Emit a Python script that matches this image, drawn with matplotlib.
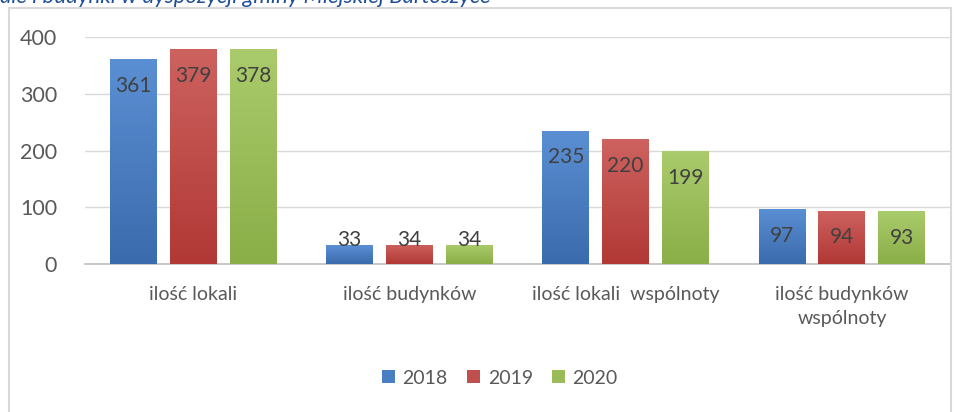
import matplotlib.pyplot as plt
import numpy as np
from matplotlib.patches import Rectangle
from matplotlib.colors import LinearSegmentedColormap

categories = ['ilość lokali', 'ilość budynków', 'ilość lokali  wspólnoty', 'ilość budynków\nwspólnoty']
years = ['2018', '2019', '2020']
values_2018 = [361, 33, 235, 97]
values_2019 = [379, 34, 220, 94]
values_2020 = [378, 34, 199, 93]
colors = ['#4a7ec2', '#c0504d', '#9bbb59']
# top / bottom shades for the bar gradients
shades = [('#5b8fd3', '#3a6bad'), ('#cd625f', '#b13835'), ('#aacb6b', '#8aae48')]

plt.rcParams['font.family'] = ['Lato', 'DejaVu Sans']

fig = plt.figure(figsize=(9.69, 4.12), dpi=100)
ax = fig.add_axes([85 / 969, 1 - 264 / 412, (950 - 85) / 969, (264 - 37) / 412])

# outer frame of the chart
fig.patches.append(Rectangle((9 / 969, -0.05), (951 - 9) / 969, 1.05 - 8 / 412,
                             transform=fig.transFigure, fill=False,
                             edgecolor='#d9d9d9', linewidth=1.5))

# clipped caption above the chart
fig.text(0.0, 1 - 3 / 412, 'ale i budynki w dyspozycji gminy Miejskiej Bartoszyce',
         color='#1f4e99', style='italic', fontsize=16, ha='left', va='baseline')

x = np.arange(len(categories))
width = 0.217
step = 0.277
series = [values_2018, values_2019, values_2020]
grad = np.linspace(1, 0, 100).reshape(-1, 1)
for i, (vals, col, yr) in enumerate(zip(series, colors, years)):
    pos = x + (i - 1) * step
    bars = ax.bar(pos, vals, width=width, color=col, label=yr, zorder=3)
    cmap = LinearSegmentedColormap.from_list('g%d' % i, [shades[i][1], shades[i][0]])
    for b in bars:
        bx, by = b.get_x(), b.get_y()
        im = ax.imshow(grad, cmap=cmap, extent=(bx, bx + b.get_width(), by, by + b.get_height()),
                       aspect='auto', zorder=3.1, vmin=0, vmax=1)
        im.set_clip_path(b)
    for p, v in zip(pos, vals):
        ax.text(p, max(v - 47, 42), str(v), ha='center', va='center',
                fontsize=15, color='#404040', zorder=4)

ax.set_xlim(-0.5, 3.5)
ax.set_ylim(0, 400)
ax.set_yticks([0, 100, 200, 300, 400])
ax.set_xticks(x)
ax.set_xticklabels(categories, fontsize=14, color='#595959', linespacing=1.45)
ax.tick_params(axis='y', labelsize=15.5, labelcolor='#595959', length=0, pad=20)
ax.tick_params(axis='x', length=0, pad=16)
ax.grid(axis='y', color='#d9d9d9', linewidth=1, zorder=0)
for s in ['top', 'right', 'left']:
    ax.spines[s].set_visible(False)
ax.spines['bottom'].set_color('#bfbfbf')
ax.spines['bottom'].set_linewidth(1.2)

ax.legend(loc='center', bbox_to_anchor=(500 / 969, 1 - 378 / 412),
          bbox_transform=fig.transFigure, ncol=3, frameon=False,
          fontsize=14, labelcolor='#595959', handlelength=0.65, handleheight=0.65,
          handletextpad=0.4, columnspacing=1.0)

fig.savefig('out.png', dpi=100)
